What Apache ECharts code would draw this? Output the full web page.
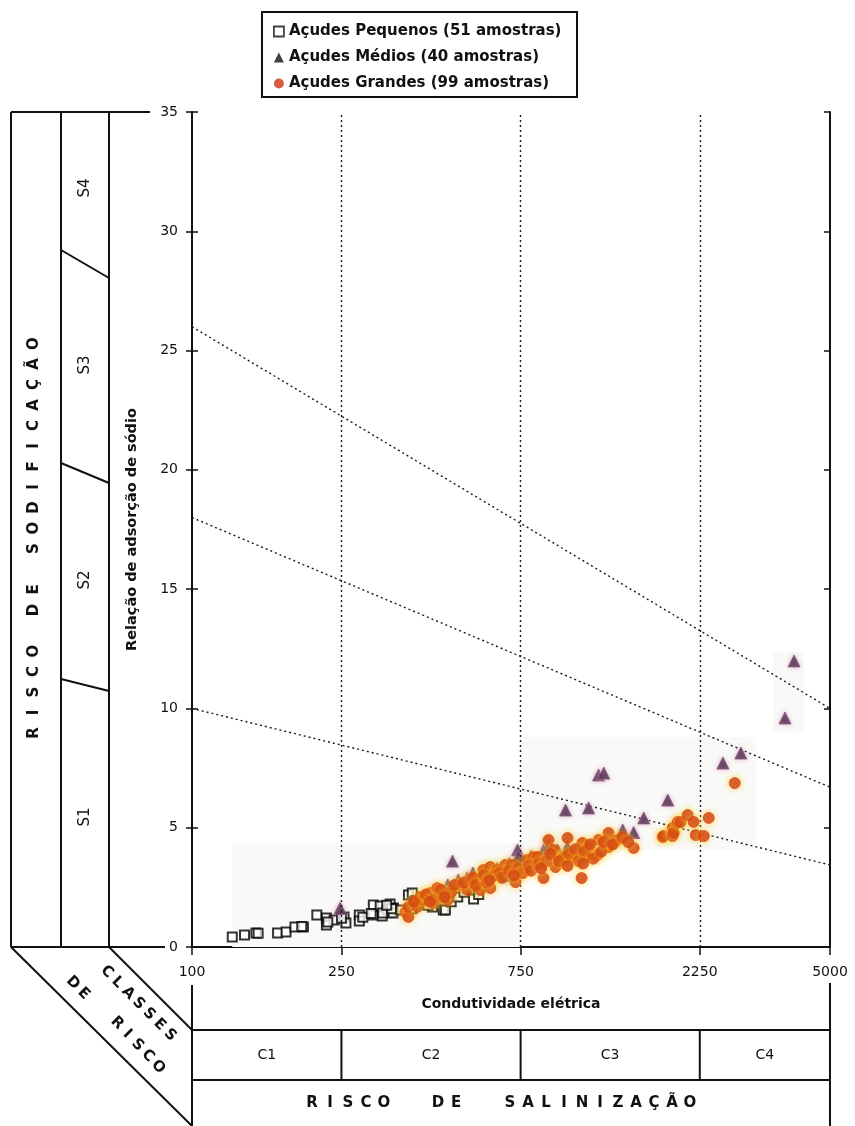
<!DOCTYPE html>
<html><head><meta charset="utf-8">
<script src="https://cdn.jsdelivr.net/npm/echarts@6/dist/echarts.min.js"></script>
<style>html,body{margin:0;padding:0;background:#fff}#c{width:855px;height:1126px}</style>
</head><body><div id="c"></div>
<script>
// ---------- DATA ----------
const xTicks = [100, 250, 750, 2250, 5000];
const yTicks = [0, 5, 10, 15, 20, 25, 30, 35];
const classLimitsEC = [250, 750, 2250];
const salinityClasses = ['C1', 'C2', 'C3', 'C4'];
const sodicityClasses = ['S1', 'S2', 'S3', 'S4'];
const legendNames = ['Açudes Pequenos (51 amostras)', 'Açudes Médios (40 amostras)', 'Açudes Grandes (99 amostras)'];
const xTitle = 'Condutividade elétrica';
const yTitle = 'Relação de adsorção de sódio';

// Sodicity class boundaries [EC, SAR]
const boundaryS1S2 = [[100, 10], [5000, 3.44]];
const boundaryS2S3 = [[100, 18], [5000, 6.7]];
const boundaryS3S4 = [[100, 26], [5000, 10]];

// Açudes Pequenos [EC, SAR]
const pequenos = [
  [128,0.42],[138,0.50],[148,0.59],[169,0.59],[178,0.63],[188,0.84],[198,0.84],
  [215,1.34],[228,1.22],[228,0.92],[239,1.13],[254,1.26],[257,1.01],[279,1.34],[279,1.09],
  [304,1.76],[304,1.34],[317,1.72],[321,1.30],[331,1.55],[337,1.80],[337,1.47],[344,1.63],[343,1.43],[322,1.43],
  [377,2.18],[386,2.26],[437,1.68],[467,1.55],[473,1.55],[562,2.01],
  [150,0.58],[196,0.86],[230,1.05],[250,1.20],[285,1.25],[300,1.40],[340,1.60],[330,1.75],[385,1.60],
  [395,1.95],[405,1.85],[415,2.05],[425,1.75],[445,1.95],[455,2.20],[490,1.90],[510,2.10],[530,2.30],[580,2.20],[360,1.55]
];
// Açudes Médios [EC, SAR]
const medios = [
  [248,1.63],[494,3.60],[512,2.81],[736,4.07],[783,3.35],[864,4.07],[891,4.28],[941,4.07],[988,5.74],
  [1138,5.83],[1210,7.21],[1249,7.29],[1403,4.90],[1596,5.41],[1849,6.16],[2593,7.71],[2895,8.13],[3795,9.60],[4011,11.99],
  [420,2.0],[450,2.3],[480,2.6],[540,2.9],[560,3.1],[600,3.2],[650,3.3],[680,3.0],[700,3.5],[760,3.6],
  [800,3.8],[850,3.5],[900,3.9],[960,3.7],[1000,4.2],[1050,4.0],[1100,4.3],[1300,4.5],[1500,4.8],[470,2.1],[740,3.8]
];
// Açudes Grandes [EC, SAR]
const grandes = [
  [370,1.47],[377,1.26],[377,1.68],[398,1.68],[405,2.10],[413,1.97],[431,2.26],[439,1.84],[450,2.47],[473,2.26],
  [479,1.97],[518,2.60],[541,2.39],[551,2.81],[586,2.89],[586,2.39],[597,3.23],[623,3.35],[623,2.47],[651,3.23],
  [683,3.44],[713,3.44],[727,2.72],[782,3.65],[812,3.77],[832,3.77],[863,2.89],[890,4.49],[918,4.07],[929,3.35],
  [970,3.73],[976,3.77],[988,3.77],[1000,4.57],[1038,3.77],[1090,2.89],[1096,4.36],[1131,3.86],[1138,4.15],[1202,3.86],
  [1210,4.49],[1286,4.78],[1286,4.19],[1360,4.49],[1500,4.15],[1792,4.61],[1803,4.65],[1905,4.99],[1905,4.65],[1917,4.78],
  [1965,5.24],[2001,5.24],[2089,5.53],[2168,5.24],[2195,4.69],[2306,4.65],[2377,5.41],[2788,6.87],
  [390,1.9],[420,2.2],[440,2.0],[460,2.4],[490,2.3],[500,2.6],[530,2.7],[560,2.9],[570,2.6],[600,3.0],
  [610,2.7],[640,3.0],[660,3.1],[670,2.9],[700,3.2],[740,3.3],[760,3.1],[790,3.4],[800,3.2],[840,3.5],
  [880,3.6],[900,3.9],[950,3.6],[1010,3.9],[1050,4.1],[1070,3.6],[1110,4.0],[1150,4.3],[1170,3.7],[1230,4.0],
  [1250,4.4],[1320,4.3],[1400,4.6],[1450,4.4],[1100,3.5],[850,3.3],[720,3.0],[620,2.8],[470,2.1],[430,1.9],[1000,3.4]
];

// ---------- CHART ----------
const FONT = 'DejaVu Sans';
const INK = '#111';
const chart = echarts.init(document.getElementById('c'), null, {renderer: 'canvas'});
const dotted = {type: [2, 3], color: '#1a1a1a', width: 1.4};
const yBase = {type: 'value', min: 0, max: 35, interval: 5, splitLine: {show: false}};

const boundarySeries = (data, extra) => Object.assign({
  type: 'line', data: data, symbol: 'none', silent: true, z: 1,
  lineStyle: dotted, xAxisIndex: 0, yAxisIndex: 0
}, extra || {});

chart.setOption({
  animation: false,
  backgroundColor: '#fff',
  grid: {left: 192, right: 25, top: 112, bottom: 179},
  legend: {
    orient: 'vertical', left: 268, top: 18, itemWidth: 10, itemHeight: 10, itemGap: 9,
    selectedMode: false,
    textStyle: {fontFamily: FONT, fontWeight: 'bold', fontSize: 15, color: INK, lineHeight: 17},
    data: [
      {name: legendNames[0], icon: 'rect', itemStyle: {color: '#fff', borderColor: INK, borderWidth: 1.8}},
      {name: legendNames[1], icon: 'triangle', itemStyle: {color: INK, borderWidth: 0}},
      {name: legendNames[2], icon: 'circle', itemStyle: {color: '#cc3311', borderWidth: 0}}
    ]
  },
  xAxis: {
    type: 'log', logBase: 10, min: xTicks[0], max: xTicks[xTicks.length - 1],
    axisLine: {lineStyle: {color: INK, width: 2}},
    axisTick: {show: true, length: 8, customValues: xTicks, lineStyle: {color: INK, width: 1.5}},
    axisLabel: {customValues: xTicks, color: INK, fontFamily: FONT, fontSize: 14, margin: 18,
      formatter: v => String(Math.round(v))},
    splitLine: {show: false}, minorTick: {show: false}
  },
  yAxis: [
    Object.assign({}, yBase, {
      position: 'left',
      axisLine: {show: true, lineStyle: {color: INK, width: 2}},
      axisTick: {show: true, length: 6, lineStyle: {color: INK, width: 1.5}},
      axisLabel: {color: INK, fontFamily: FONT, fontSize: 14, margin: 14},
      name: yTitle, nameLocation: 'middle', nameGap: 52, nameRotate: 90,
      nameTextStyle: {fontFamily: FONT, fontWeight: 'bold', fontSize: 14.5, color: INK}
    }),
    Object.assign({}, yBase, {
      position: 'left', axisLine: {show: false},
      axisTick: {show: true, inside: true, length: 6, lineStyle: {color: INK, width: 1.5}},
      axisLabel: {show: false}
    }),
    Object.assign({}, yBase, {
      position: 'right',
      axisLine: {show: true, lineStyle: {color: INK, width: 2}},
      axisTick: {show: true, inside: true, length: 6, lineStyle: {color: INK, width: 1.5}},
      axisLabel: {show: false}
    })
  ],
  series: [
    boundarySeries(boundaryS1S2, {
      markLine: {
        silent: true, symbol: 'none', label: {show: false}, lineStyle: dotted,
        data: classLimitsEC.map(v => ({xAxis: v}))
      },
      markArea: {
        silent: true, itemStyle: {color: '#f9f9f7'},
        data: [
          [{coord: [128, 0]}, {coord: [750, 4.36]}],
          [{coord: [750, 4.07]}, {coord: [3170, 8.8]}],
          [{coord: [3525, 8.97]}, {coord: [4268, 12.37]}]
        ]
      }
    }),
    boundarySeries(boundaryS2S3),
    boundarySeries(boundaryS3S4),
    {
      name: legendNames[0], type: 'scatter', data: pequenos, z: 3,
      symbol: 'rect', symbolSize: 9,
      itemStyle: {color: '#fff', borderColor: '#000', borderWidth: 2}
    },
    {
      name: legendNames[1], type: 'scatter', data: medios, z: 4,
      symbol: 'triangle', symbolSize: 12,
      itemStyle: {color: '#3a2240', borderColor: '#8a5a80', borderWidth: 1,
        shadowBlur: 4, shadowColor: 'rgba(220,150,190,0.8)'}
    },
    {
      name: legendNames[2], type: 'scatter', data: grandes, z: 5,
      symbol: 'circle', symbolSize: 11,
      itemStyle: {color: '#cc3311', borderColor: '#dd4a16', borderWidth: 1,
        shadowBlur: 6, shadowColor: 'rgba(255,205,40,0.9)'}
    }
  ]
});

// ---------- FRAME / DECORATION ----------
function ln(x1, y1, x2, y2, w) {
  return {type: 'line', silent: true, z: 10, shape: {x1, y1, x2, y2}, style: {stroke: INK, lineWidth: w || 2}};
}
function tx(s, x, y, rot, size, weight) {
  return {type: 'text', silent: true, z: 10, x: x, y: y, rotation: rot || 0,
    style: {text: s, x: 0, y: 0, align: 'center', verticalAlign: 'middle', fill: INK,
      fontFamily: FONT, fontSize: size || 14, fontWeight: weight || 'normal'}};
}
function spaced(s, x0, y0, dx, dy, rot, size, weight) {
  const out = [];
  Array.from(s).forEach((ch, i) => { if (ch !== ' ') out.push(tx(ch, x0 + i * dx, y0 + i * dy, rot, size, weight)); });
  return out;
}

const px = v => chart.convertToPixel({xAxisIndex: 0}, v);
const gLeft = px(xTicks[0]), gRight = px(xTicks[xTicks.length - 1]);
const yTop = chart.convertToPixel({yAxisIndex: 0}, 35), yBot = chart.convertToPixel({yAxisIndex: 0}, 0);

const g = [];
// legend frame
g.push({type: 'rect', silent: true, z: 10, shape: {x: 262, y: 12, width: 315, height: 85},
  style: {fill: 'none', stroke: INK, lineWidth: 2}});
// left panel
g.push(ln(11, yTop, 11, yBot), ln(61, yTop, 61, yBot), ln(109, yTop, 109, yBot));
g.push(ln(11, yTop, 150, yTop), ln(11, yBot, 165, yBot));
g.push(ln(61, 250, 109, 278), ln(61, 463, 109, 483), ln(61, 679, 109, 691));
g.push(...spaced('RISCO DE SODIFICAÇÃO', 34, 733, 0, -20.5, Math.PI / 2, 15, 'bold'));
const sY = [817, 580, 365, 188];
sodicityClasses.forEach((s, i) => g.push(tx(s, 85, sY[i], Math.PI / 2, 15, 'normal')));
// bottom panel
g.push(ln(11, yBot, gLeft, 1126), ln(109, yBot, gLeft, 1030));
g.push(ln(gLeft, 985, gLeft, 1126), ln(gRight, 983, gRight, 1126));
g.push(ln(gLeft, 1030, gRight, 1030), ln(gLeft, 1080, gRight, 1080));
const bounds = [gLeft].concat(classLimitsEC.map(px)).concat([gRight]);
classLimitsEC.forEach(v => g.push(ln(px(v), 1030, px(v), 1080)));
salinityClasses.forEach((c, i) => g.push(tx(c, (bounds[i] + bounds[i + 1]) / 2, 1055, 0, 14, 'normal')));
g.push(tx(xTitle, (gLeft + gRight) / 2, 1004, 0, 14, 'bold'));
g.push(...spaced('RISCO  DE  SALINIZAÇÃO', 312, 1103, 18, 0, 0, 15, 'bold'));
g.push(...spaced('CLASSES', 107, 972, 10.5, 10.5, -Math.PI / 4, 15, 'bold'));
g.push(...spaced('DE', 73, 983, 10.5, 10.5, -Math.PI / 4, 15, 'bold'));
g.push(...spaced('RISCO', 117, 1023, 10.3, 11, -Math.PI / 4, 15, 'bold'));

chart.setOption({graphic: g});
</script></body></html>
